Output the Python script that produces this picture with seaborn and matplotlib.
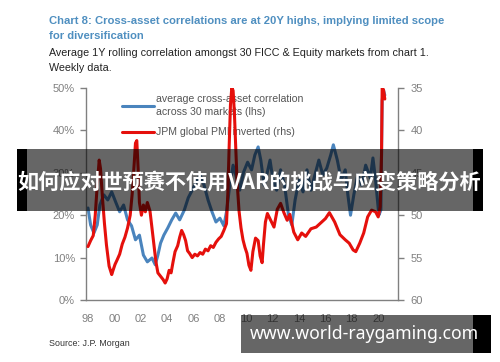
import matplotlib
matplotlib.use("Agg")
import matplotlib.pyplot as plt
import seaborn as sns
from matplotlib.patches import Rectangle
from matplotlib.lines import Line2D

# ---------------- data ----------------
corr_years = [1998.0, 1998.2, 1998.45, 1998.7, 1998.9, 1999.2, 1999.5, 1999.8, 2000.1, 2000.4,
              2000.7, 2001.0, 2001.3, 2001.6, 2001.9, 2002.2, 2002.5, 2002.85, 2003.1, 2003.3,
              2003.5, 2003.75, 2004.05, 2004.35, 2004.65, 2004.95, 2005.3, 2005.6, 2005.9, 2006.2,
              2006.5, 2006.8, 2007.1, 2007.4, 2007.7, 2008.0, 2008.3, 2008.5, 2008.75, 2009.0,
              2009.2, 2009.5, 2009.8, 2010.1, 2010.4, 2010.65, 2010.9, 2011.1, 2011.35, 2011.55,
              2011.8, 2012.0, 2012.3, 2012.6, 2012.9, 2013.2, 2013.45, 2013.7, 2014.0, 2014.3,
              2014.6, 2014.9, 2015.2, 2015.5, 2015.8, 2016.1, 2016.4, 2016.6, 2016.9, 2017.2,
              2017.5, 2017.7, 2017.9, 2018.15, 2018.45, 2018.75, 2019.05, 2019.4, 2019.6, 2019.8,
              2020.05, 2020.2, 2020.3, 2020.4, 2020.5]
corr_pct = [21.7, 17.7, 15.8, 17.7, 22.4, 24.8, 23.6, 25.5, 23.1, 20.8,
            22.4, 18.9, 17.5, 14.2, 15.3, 10.6, 9.0, 9.9, 8.3, 10.6,
            13.4, 15.3, 17.0, 18.9, 20.5, 18.9, 21.2, 24.1, 25.9, 27.8,
            29.5, 27.1, 23.6, 20.8, 18.4, 19.3, 17.5, 20.8, 27.1, 31.8,
            29.5, 25.9, 30.2, 32.5, 30.7, 34.2, 36.1, 33.0, 27.1, 29.5,
            33.0, 28.8, 25.9, 30.7, 27.1, 20.0, 17.7, 23.6, 28.3, 25.5,
            30.7, 25.9, 29.5, 33.0, 29.5, 31.1, 34.2, 36.6, 33.0, 28.3,
            30.7, 24.8, 20.0, 24.8, 29.5, 27.1, 31.8, 28.8, 33.5, 28.3,
            20.0, 21.2, 47.0, 49.5, 48.3]

pmi_years = [1998.0, 1998.2, 1998.4, 1998.55, 1998.7, 1998.85, 1998.95, 1999.1, 1999.25, 1999.4,
             1999.6, 1999.8, 1999.9, 2000.05, 2000.2, 2000.4, 2000.6, 2000.8, 2001.0, 2001.2,
             2001.35, 2001.5, 2001.6, 2001.7, 2001.8, 2001.9, 2002.05, 2002.2, 2002.35, 2002.5,
             2002.7, 2002.85, 2003.0, 2003.15, 2003.3, 2003.5, 2003.7, 2003.85, 2004.0, 2004.15,
             2004.3, 2004.45, 2004.6, 2004.8, 2004.95, 2005.1, 2005.25, 2005.4, 2005.55, 2005.7,
             2005.9, 2006.1, 2006.3, 2006.5, 2006.7, 2006.9, 2007.1, 2007.3, 2007.5, 2007.7,
             2007.9, 2008.1, 2008.3, 2008.5, 2008.6, 2008.7, 2008.8, 2008.9, 2009.0, 2009.1,
             2009.2, 2009.3, 2009.45, 2009.6, 2009.75, 2009.9, 2010.05, 2010.2, 2010.35, 2010.5,
             2010.7, 2010.9, 2011.05, 2011.2, 2011.3, 2011.45, 2011.6, 2011.85, 2012.1, 2012.35,
             2012.6, 2012.85, 2013.1, 2013.3, 2013.6, 2013.9, 2014.2, 2014.5, 2014.9, 2015.3,
             2015.65, 2016.0, 2016.3, 2016.7, 2017.1, 2017.5, 2017.8, 2018.1, 2018.3, 2018.6,
             2018.9, 2019.2, 2019.5, 2019.8, 2020.0, 2020.15, 2020.25, 2020.3, 2020.4, 2020.5]
pmi_inv = [53.7, 53.0, 52.4, 50.0, 46.5, 43.5, 44.5, 48.0, 51.0, 53.5,
           56.0, 57.0, 56.5, 55.8, 55.3, 54.6, 53.4, 52.6, 51.5, 50.0,
           47.5, 44.0, 41.5, 41.2, 44.5, 48.5, 50.0, 48.8, 49.6, 48.5,
           49.5, 51.5, 53.5, 55.5, 56.8, 57.2, 57.6, 58.0, 57.5, 56.5,
           56.8, 55.5, 54.3, 53.6, 52.6, 51.8, 52.3, 53.0, 54.2, 54.5,
           55.0, 54.6, 54.8, 54.4, 54.6, 54.0, 54.2, 53.6, 53.8, 53.2,
           52.8, 52.5, 51.8, 51.0, 47.5, 42.0, 37.0, 35.0, 35.3, 38.0,
           42.0, 46.0, 49.5, 51.5, 52.9, 53.8, 54.5, 55.9, 56.5, 54.3,
           52.7, 53.0, 54.8, 55.6, 53.5, 50.8, 49.8, 50.6, 51.4, 49.3,
           48.6, 49.7, 50.6, 49.9, 52.0, 52.9, 52.1, 52.5, 51.6, 51.4,
           50.9, 50.4, 49.7, 50.8, 52.3, 52.9, 53.3, 54.1, 54.3, 53.3,
           52.1, 50.2, 49.4, 49.6, 50.2, 49.0, 43.0, 35.0, 35.2, 36.3]

year_ticks = [1998, 2000, 2002, 2004, 2006, 2008, 2010, 2012, 2014, 2016, 2018, 2020]
year_labels = ["98", "00", "02", "04", "06", "08", "10", "12", "14", "16", "18", "20"]
lhs_ticks = [0, 10, 20, 30, 40, 50]
lhs_labels = ["0%", "10%", "20%", "30%", "40%", "50%"]
rhs_ticks = [35, 40, 45, 50, 55, 60]

title_lines = ["Chart 8: Cross-asset correlations are at 20Y highs, implying limited scope",
               "for diversification"]
subtitle_lines = ["Average 1Y rolling correlation amongst 30 FICC & Equity markets from chart 1.",
                  "Weekly data."]
legend_labels = ["average cross-asset correlation\nacross 30 markets (lhs)",
                 "JPM global PMI inverted (rhs)"]
source_text = "Source: J.P. Morgan"
banner_text = "如何应对世预赛不使用VAR的挑战与应变策略分析"
url_text = "www.world-raygaming.com"

# ---------------- style ----------------
sns.set_theme(style="white")
plt.rcParams['font.family'] = ['Liberation Sans', 'DejaVu Sans']

BLUE = "#4a84bd"
RED = "#e5100c"
GRAY = "#808080"

W, H = 500, 362
fig = plt.figure(figsize=(W / 100, H / 100), dpi=100)
fig.patch.set_facecolor("white")


def fx(px):
    return px / W


def fy(py):
    return 1 - py / H


renderer = fig.canvas.get_renderer()


def fit_text(x, y, s, width_px, **kw):
    t = fig.text(fx(x), fy(y), s, **kw)
    w = t.get_window_extent(renderer).width
    t.set_fontsize(t.get_fontsize() * width_px / w)
    return t


ax = fig.add_axes([fx(86), fy(300), fx(398) - fx(86), fy(88) - fy(300)])
sns.lineplot(x=corr_years, y=corr_pct, ax=ax, color=BLUE, lw=2.2, estimator=None, sort=False)
ax.set_xlim(1997.85, 2021.5)
ax.set_ylim(0, 50)
ax.set_xticks(year_ticks)
ax.set_xticklabels(year_labels)
ax.set_yticks(lhs_ticks)
ax.set_yticklabels(lhs_labels)

ax2 = ax.twinx()
sns.lineplot(x=pmi_years, y=pmi_inv, ax=ax2, color=RED, lw=2.2, estimator=None, sort=False)
ax2.set_ylim(60, 35)
ax2.set_yticks(rhs_ticks)
ax2.set_yticklabels([str(v) for v in rhs_ticks])

for a in (ax, ax2):
    a.set_xlabel("")
    a.set_ylabel("")
    a.grid(False)
    a.tick_params(direction="out", length=4, width=1, color=GRAY, labelcolor=GRAY,
                  labelsize=8, pad=3)
    for sp in a.spines.values():
        sp.set_color(GRAY)
        sp.set_linewidth(1)
ax.tick_params(axis="x", pad=6)
ax.tick_params(axis="y", pad=4)
ax2.tick_params(axis="y", pad=5)
ax.spines["top"].set_visible(False)
ax.spines["right"].set_visible(False)
ax2.spines["top"].set_visible(False)
ax2.spines["left"].set_visible(False)
ax2.spines["bottom"].set_visible(False)
ax.set_facecolor("white")
ax2.patch.set_visible(False)

handles = [Line2D([], [], color=BLUE, lw=2.2), Line2D([], [], color=RED, lw=2.2)]
leg = ax.legend(handles, legend_labels, loc="upper left",
                bbox_to_anchor=(fx(122), fy(94)), bbox_transform=fig.transFigure,
                frameon=False, fontsize=7.6, handlelength=3.0, handletextpad=0.25,
                labelspacing=1.0, borderaxespad=0, borderpad=0)
for t in leg.get_texts():
    t.set_color("#555555")
    t.set_linespacing(1.35)

# ---------------- titles ----------------
TITLE_C = "#4f8fc0"
t1 = fit_text(49, 21, title_lines[0], 394, color=TITLE_C, fontsize=10, va="center",
              ha="left", fontweight="bold")
fig.text(fx(49), fy(36), title_lines[1], color=TITLE_C, fontsize=t1.get_fontsize(),
         va="center", ha="left", fontweight="bold")
s1 = fit_text(49, 53, subtitle_lines[0], 378, color="#222222", fontsize=9, va="center", ha="left")
fig.text(fx(49), fy(68), subtitle_lines[1], color="#222222", fontsize=s1.get_fontsize(),
         va="center", ha="left")
fit_text(49, 343, source_text, 79, color="#333333", fontsize=7, va="center", ha="left")

# ---------------- overlay banners ----------------
fig.add_artist(Rectangle((fx(27), fy(211)), fx(473) - fx(27), (211 - 149) / H,
                         transform=fig.transFigure, facecolor="black", alpha=0.6,
                         edgecolor="none", zorder=10))
for x0, x1 in ((17, 27), (473, 483)):
    fig.add_artist(Rectangle((fx(x0), fy(211)), fx(x1) - fx(x0), (211 - 149) / H,
                             transform=fig.transFigure, facecolor="black",
                             edgecolor="none", zorder=10))
fit_text(249.5, 182, banner_text, 465, color="white", fontsize=16, fontweight="bold",
         ha="center", va="center", family=["Noto Sans CJK SC", "DejaVu Sans"], zorder=11)

fig.add_artist(Rectangle((fx(241), fy(353)), fx(473) - fx(241), (353 - 315) / H,
                         transform=fig.transFigure, facecolor="black", alpha=0.6,
                         edgecolor="none", zorder=10))
fig.add_artist(Rectangle((fx(473), fy(353)), fx(491) - fx(473), (353 - 315) / H,
                         transform=fig.transFigure, facecolor="black",
                         edgecolor="none", zorder=10))
fit_text(364, 334, url_text, 228, color="white", fontsize=12, fontweight="bold",
         ha="center", va="center", family=["Noto Sans", "DejaVu Sans"], zorder=11)

fig.savefig("out.png", dpi=100, facecolor="white")
